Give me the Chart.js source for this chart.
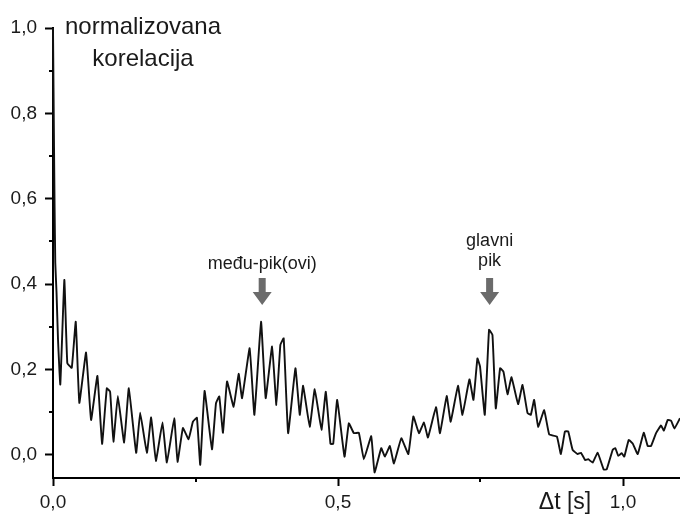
<!DOCTYPE html>
<html>
<head>
<meta charset="utf-8">
<script src="https://cdn.jsdelivr.net/npm/chart.js@4"></script>
<style>
  html, body { margin: 0; padding: 0; background: #fff; }
  #wrap { width: 680px; height: 514px; position: relative; }
</style>
</head>
<body>
<div id="wrap"><canvas id="c"></canvas></div>
<script>
// Δt [s]
const dt = [
  0, 0.0009, 0.0018, 0.0028, 0.004, 0.0062, 0.0088, 0.0128, 0.0199, 0.0251,
  0.0329, 0.0399, 0.0462, 0.058, 0.0668, 0.0779, 0.0861, 0.0944, 0.1002, 0.106,
  0.1137, 0.1248, 0.133, 0.1459, 0.1529, 0.1647, 0.1722, 0.1805, 0.1921, 0.1998,
  0.2127, 0.2185, 0.2279, 0.2378, 0.2455, 0.2525, 0.2583, 0.2659, 0.2789, 0.2859,
  0.2917, 0.2982, 0.3053, 0.3169, 0.3257, 0.3317, 0.345, 0.3533, 0.365, 0.3731,
  0.3844, 0.3919, 0.3989, 0.4047, 0.4125, 0.4253, 0.4329, 0.4388, 0.4504, 0.4592,
  0.471, 0.4786, 0.4868, 0.4916, 0.4986, 0.5114, 0.519, 0.5278, 0.5366, 0.5453,
  0.5583, 0.5641, 0.5759, 0.5822, 0.591, 0.5981, 0.6111, 0.6234, 0.6322, 0.642,
  0.6508, 0.6578, 0.6719, 0.6789, 0.6907, 0.6977, 0.7105, 0.7183, 0.7306, 0.7376,
  0.7446, 0.7492, 0.7575, 0.765, 0.771, 0.7768, 0.7844, 0.7903, 0.7974, 0.8044,
  0.816, 0.8237, 0.8325, 0.8383, 0.8441, 0.8511, 0.8617, 0.8705, 0.884, 0.891,
  0.8981, 0.9039, 0.9116, 0.9204, 0.9262, 0.9337, 0.939, 0.9467, 0.9555, 0.9661,
  0.9714, 0.9819, 0.9865, 0.9917, 0.9977, 1.0023, 1.01, 1.017, 1.0258, 1.0364,
  1.0434, 1.0492, 1.058, 1.0668, 1.0716, 1.0785, 1.0844, 1.0902, 1.1
];
// normalizovana korelacija
const korelacija = [
  1.0, 0.86, 0.72, 0.58, 0.45, 0.38, 0.27, 0.165, 0.41, 0.215,
  0.204, 0.312, 0.122, 0.24, 0.082, 0.185, 0.026, 0.156, 0.148, 0.031,
  0.138, 0.029, 0.156, 0.005, 0.099, 0.005, 0.088, -0.014, 0.076, -0.018,
  0.086, -0.016, 0.063, 0.037, 0.078, 0.087, -0.023, 0.15, 0.013, 0.121,
  0.137, 0.052, 0.172, 0.113, 0.19, 0.133, 0.25, 0.094, 0.312, 0.133,
  0.254, 0.117, 0.258, 0.273, 0.051, 0.203, 0.094, 0.162, 0.066, 0.154,
  0.059, 0.148, 0.026, 0.026, 0.129, -0.004, 0.074, 0.051, 0.052, -0.01,
  0.044, -0.041, 0.016, -0.004, 0.021, -0.02, 0.039, 0.002, 0.09, 0.051,
  0.076, 0.041, 0.112, 0.051, 0.138, 0.078, 0.162, 0.094, 0.177, 0.129,
  0.226, 0.207, 0.094, 0.293, 0.281, 0.109, 0.203, 0.195, 0.142, 0.182,
  0.119, 0.164, 0.098, 0.094, 0.129, 0.066, 0.105, 0.048, 0.043, 0.002,
  0.055, 0.055, 0.012, 0.002, 0.005, -0.012, -0.01, -0.018, 0.005, -0.034,
  -0.034, 0.012, 0.016, -0.002, 0.004, -0.004, 0.035, 0.027, 0.002, 0.052,
  0.021, 0.021, 0.051, 0.069, 0.057, 0.082, 0.08, 0.062, 0.086
];
const xLabeled = [0, 0.5, 1.0];
const yLabeled = [0, 0.2, 0.4, 0.6, 0.8, 1.0];
const notes = [
  { x: 0.367, lines: ["među-pik(ovi)"], y: [264] },
  { x: 0.766, lines: ["glavni", "pik"], y: [241, 261] }
];

const FONT = '"Liberation Sans", Arial, sans-serif';
const comma = v => v.toFixed(1).replace(".", ",");
const isOn = (list, v) => list.some(t => Math.abs(t - v) < 1e-6);

const extras = {
  id: "extras",
  afterDraw(chart) {
    const ctx = chart.ctx;
    const xs = chart.scales.x, ys = chart.scales.y;
    ctx.save();
    // short minor ticks
    ctx.strokeStyle = "#000";
    ctx.lineWidth = 2;
    ys.ticks.forEach(t => {
      if (isOn(yLabeled, t.value)) return;
      const p = Math.round(ys.getPixelForValue(t.value));
      ctx.beginPath(); ctx.moveTo(xs.left - 4, p); ctx.lineTo(xs.left, p); ctx.stroke();
    });
    xs.ticks.forEach(t => {
      if (isOn(xLabeled, t.value)) return;
      const p = Math.round(xs.getPixelForValue(t.value));
      ctx.beginPath(); ctx.moveTo(p, ys.bottom); ctx.lineTo(p, ys.bottom + 4); ctx.stroke();
    });
    // axis titles
    ctx.fillStyle = "#1a1a1a";
    ctx.textAlign = "center";
    ctx.textBaseline = "middle";
    ctx.font = "24px " + FONT;
    ctx.fillText("normalizovana", 143, 27);
    ctx.fillText("korelacija", 143, 59);
    ctx.font = "23px " + FONT;
    ctx.fillText("\u0394t [s]", 565, 503);
    // peak notes with arrows
    notes.forEach(n => {
      const cx = xs.getPixelForValue(n.x);
      const tip = 305;
      ctx.font = "18px " + FONT;
      ctx.fillStyle = "#1a1a1a";
      n.lines.forEach((s, i) => ctx.fillText(s, cx, n.y[i]));
      ctx.fillStyle = "#6b6b6b";
      ctx.beginPath();
      ctx.moveTo(cx - 3.5, tip - 27);
      ctx.lineTo(cx + 3.5, tip - 27);
      ctx.lineTo(cx + 3.5, tip - 13);
      ctx.lineTo(cx + 9.5, tip - 13);
      ctx.lineTo(cx, tip);
      ctx.lineTo(cx - 9.5, tip - 13);
      ctx.lineTo(cx - 3.5, tip - 13);
      ctx.closePath();
      ctx.fill();
    });
    ctx.restore();
  }
};

new Chart(document.getElementById("c"), {
  type: "line",
  data: {
    datasets: [{
      data: dt.map((x, i) => ({ x: x, y: korelacija[i] })),
      borderColor: "#111",
      borderWidth: 1.9,
      pointRadius: 0,
      tension: 0.1,
      clip: false
    }]
  },
  options: {
    responsive: true,
    maintainAspectRatio: false,
    animation: false,
    events: [],
    layout: { padding: { top: 28, right: 0, left: 0, bottom: 0 } },
    plugins: { legend: { display: false }, tooltip: { enabled: false } },
    scales: {
      x: {
        type: "linear",
        min: 0,
        max: 1.1,
        afterFit: s => { s.height = 36; },
        border: { color: "#000", width: 2 },
        grid: {
          drawOnChartArea: false,
          tickLength: 8,
          tickWidth: 2,
          tickColor: c => isOn(xLabeled, c.tick.value) ? "#000" : "rgba(0,0,0,0)"
        },
        ticks: {
          stepSize: 0.25,
          includeBounds: false,
          autoSkip: false,
          maxRotation: 0,
          padding: 5,
          color: "#1a1a1a",
          font: { family: FONT, size: 19 },
          callback: v => isOn(xLabeled, v) ? comma(v) : ""
        }
      },
      y: {
        type: "linear",
        min: -0.054,
        max: 1.0,
        afterFit: s => { s.width = 53; },
        border: { color: "#000", width: 2 },
        grid: {
          drawOnChartArea: false,
          tickLength: 8,
          tickWidth: 2,
          tickColor: c => isOn(yLabeled, c.tick.value) ? "#000" : "rgba(0,0,0,0)"
        },
        ticks: {
          stepSize: 0.1,
          includeBounds: false,
          autoSkip: false,
          padding: 8,
          color: "#1a1a1a",
          font: { family: FONT, size: 19 },
          callback: v => isOn(yLabeled, v) ? comma(v) : ""
        }
      }
    }
  },
  plugins: [extras]
});
</script>
</body>
</html>
